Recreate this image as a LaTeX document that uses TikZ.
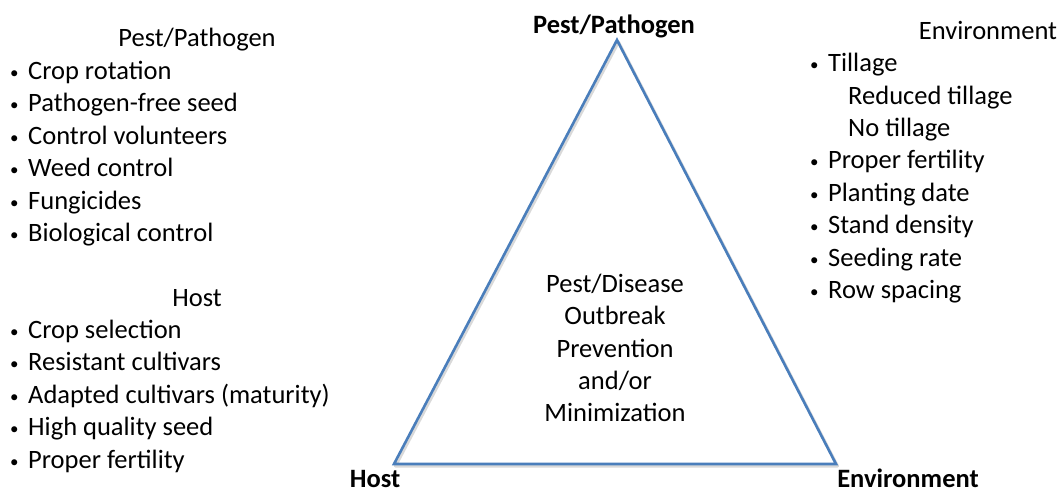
\documentclass[tikz,border=0pt]{standalone}
\usepackage{fontspec}
\setmainfont{Carlito}
\usetikzlibrary{calc}
\definecolor{triblue}{RGB}{74,126,187}
\tikzset{
  txt/.style={inner sep=0pt, font=\fontsize{26.5}{30}\selectfont, anchor=base west},
  head/.style={inner sep=0pt, font=\fontsize{26.5}{30}\selectfont, anchor=base},
  bold/.style={inner sep=0pt, font=\fontsize{26.5}{30}\selectfont\bfseries, anchor=base},
  ctr/.style={inner sep=0pt, font=\fontsize{26.5}{30}\selectfont, anchor=base},
}
\newcommand{\bul}{\makebox[18pt][l]{\raisebox{1pt}{\fontsize{17}{17}\selectfont •}}}
\begin{document}
\begin{tikzpicture}[x=1pt,y=-1pt]
\useasboundingbox (0,0) rectangle (1061,493);
% triangle
\coordinate (apex) at (617,40);
\coordinate (bl) at (394,464);
\coordinate (br) at (836,464);
\draw[black!25, line width=3pt, line join=round, opacity=0.6] ($(apex)+(1.5,2)$) -- ($(br)+(1.5,2)$) -- ($(bl)+(1.5,2)$) -- cycle;
\draw[triblue, line width=2.6pt, line join=miter] (apex) -- (br) -- (bl) -- cycle;
% vertex labels
\node[bold] (lp) at (614,33) {Pest/Pathogen};
\node[bold] (lh) at (375,487) {Host};
\node[bold] (le) at (908,487) {Environment};
% center
\node[ctr] (c1) at (615,292) {Pest/Disease};
\node[ctr] (c2) at (615,324) {Outbreak};
\node[ctr] (c3) at (615,357) {Prevention};
\node[ctr] (c4) at (615,389) {and/or};
\node[ctr] (c5) at (615,421) {Minimization};
% left: pest/pathogen
\node[head] (hp) at (197,46) {Pest/Pathogen};
\node[txt] (p1) at (10,79) {\bul Crop rotation};
\node[txt] (p2) at (10,111.5) {\bul Pathogen-free seed};
\node[txt] (p3) at (10,144) {\bul Control volunteers};
\node[txt] (p4) at (10,176.5) {\bul Weed control};
\node[txt] (p5) at (10,209) {\bul Fungicides};
\node[txt] (p6) at (10,241.5) {\bul Biological control};
% left: host
\node[head] (hh) at (197,306) {Host};
\node[txt] (h1) at (10,338) {\bul Crop selection};
\node[txt] (h2) at (10,370.5) {\bul Resistant cultivars};
\node[txt] (h3) at (10,403) {\bul Adapted cultivars (maturity)};
\node[txt] (h4) at (10,435.5) {\bul High quality seed};
\node[txt] (h5) at (10,468) {\bul Proper fertility};
% right: environment
\node[head] (he) at (988,39) {Environment};
\node[txt] (e1) at (810,71) {\bul Tillage};
\node[txt] (e2) at (848,104) {Reduced tillage};
\node[txt] (e3) at (848,136) {No tillage};
\node[txt] (e4) at (810,168.5) {\bul Proper fertility};
\node[txt] (e5) at (810,201) {\bul Planting date};
\node[txt] (e6) at (810,233.5) {\bul Stand density};
\node[txt] (e7) at (810,266) {\bul Seeding rate};
\node[txt] (e8) at (810,298.5) {\bul Row spacing};
\end{tikzpicture}
\end{document}
